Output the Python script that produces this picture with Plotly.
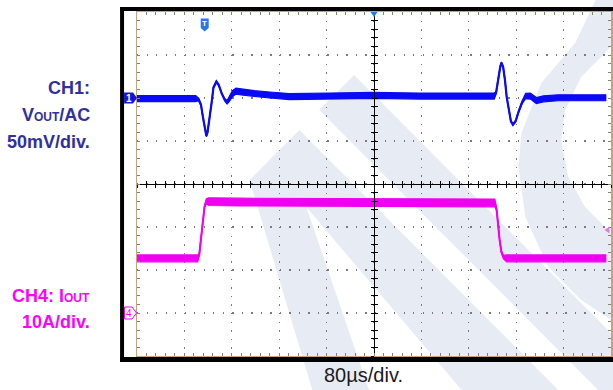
import plotly.graph_objects as go

# ---------------- data (read from the scope shot) ----------------
# CH1: Vout (AC), mV relative to the channel marker
time_us_ch1 = [-400, -301, -296, -292, -289, -286, -283, -281, -277, -274, -271, -266,
               -262, -257, -252, -248, -244, -239, -233, -224, -202, -176, -143, -76,
               0, 76, 160, 203, 206, 209, 213, 215, 218, 221, 224, 228, 231, 234.5,
               239, 244, 250, 256, 264, 274, 286, 311, 345, 392]
vout_mv = [-0.6, -0.6, -1.7, -8, -21, -35, -44, -40, -23, -5, 12, 19,
           15, 5, -2, -5, -1, 5, 8, 7, 5, 3.5, 1.7, 2.3,
           3, 2.3, 2.3, 2.3, 6, 21, 36, 41, 36, 21, 1, -15, -27, -31,
           -27, -16, -5, 2.3, 2.3, -3, -1, 0.3, 0.3, 0.3]
vout_noise_mv = [3.5, 3.5, 1.5, 1, 1, 1, 1, 1, 1, 1, 1, 1,
                 1, 1, 1.5, 2, 3, 3.5, 3.5, 3.5, 3.5, 3.5, 3.5, 3.5,
                 3.5, 3.5, 3.5, 3.5, 1.5, 1, 1, 1, 1, 1, 1, 1, 1, 1,
                 1, 1, 1.5, 3, 3.5, 3.5, 3.5, 3.5, 3.5, 3.5]

# CH4: Iout, A
time_us_ch4 = [-400, -297.5, -295, -292, -289, -286, -283, -279, -227, 0,
               204, 207, 209, 212, 215, 218.5, 224, 392]
iout_a = [12.7, 12.7, 13.5, 17, 21.2, 24.7, 26, 25.9, 25.8, 25.7,
          25.6, 24, 20.5, 17, 14.2, 13, 12.7, 12.7]
iout_noise_a = [0.8, 0.8, 0.3, 0.2, 0.2, 0.2, 0.6, 0.9, 0.9, 0.9,
                0.9, 0.3, 0.2, 0.2, 0.2, 0.4, 0.8, 0.8]

x_range = [-400, 400]      # 80 us/div, 10 divisions
ch1_range = [-300, 100]    # 50 mV/div, 8 divisions
ch4_range = [-10, 70]      # 10 A/div, 8 divisions

# ---------------- layout geometry (page pixels) ----------------
W_FIG, H_FIG = 613, 390
L, T, W, H = 137, 12, 476, 344   # plot area in page pixels


def px(x, y):
    return (x - L) / W, (T + H - y) / H


def poly(points):
    s = ""
    for i, (x, y) in enumerate(points):
        xp, yp = px(x, y)
        s += ("M" if i == 0 else "L") + f"{xp:.5f},{yp:.5f}"
    return s + "Z"


BLUE = "#0a0af5"
MAGENTA = "#f000f0"
TAN = "#c9a27c"
WM = "#e7ecf4"

fig = go.Figure()

# CH1 band + line
lo1 = [v - n for v, n in zip(vout_mv, vout_noise_mv)]
hi1 = [v + n for v, n in zip(vout_mv, vout_noise_mv)]
fig.add_trace(go.Scatter(x=time_us_ch1, y=lo1, mode="lines",
                         line=dict(color=BLUE, width=1.2), hoverinfo="skip", showlegend=False))
fig.add_trace(go.Scatter(x=time_us_ch1, y=hi1, mode="lines", fill="tonexty", fillcolor=BLUE,
                         line=dict(color=BLUE, width=1.2), hoverinfo="skip", showlegend=False))
fig.add_trace(go.Scatter(x=time_us_ch1, y=vout_mv, mode="lines",
                         line=dict(color=BLUE, width=2.2), name="CH1", showlegend=False))

# CH4 band + line
lo4 = [v - n for v, n in zip(iout_a, iout_noise_a)]
hi4 = [v + n for v, n in zip(iout_a, iout_noise_a)]
fig.add_trace(go.Scatter(x=time_us_ch4, y=lo4, yaxis="y2", mode="lines",
                         line=dict(color=MAGENTA, width=1.2), hoverinfo="skip", showlegend=False))
fig.add_trace(go.Scatter(x=time_us_ch4, y=hi4, yaxis="y2", mode="lines", fill="tonexty",
                         fillcolor=MAGENTA, line=dict(color=MAGENTA, width=1.2),
                         hoverinfo="skip", showlegend=False))
fig.add_trace(go.Scatter(x=time_us_ch4, y=iout_a, yaxis="y2", mode="lines",
                         line=dict(color=MAGENTA, width=2), name="CH4", showlegend=False))

# empty traces to realise the centre-crosshair axes
fig.add_trace(go.Scatter(x=[], y=[], xaxis="x2", yaxis="y3", showlegend=False))
fig.add_trace(go.Scatter(x=[], y=[], xaxis="x3", yaxis="y4", showlegend=False))

shapes = []
# watermark
for pts in [
    [(250, 180), (300, 130), (560, 390), (463, 390), (307, 207), (370, 390), (313, 390)],
    [(320, 110), (355, 75), (670, 390), (600, 390)],
    [(600, -5), (577, 43), (543, 83), (523, 133), (520, 167), (527, 217), (550, 267),
     (583, 300), (613, 320), (650, 335), (650, 240), (613, 233), (587, 207), (570, 177),
     (563, 140), (567, 110), (583, 77), (613, 47), (650, 20), (650, -5)],
]:
    shapes.append(dict(type="path", xref="paper", yref="paper", path=poly(pts),
                       fillcolor=WM, line=dict(width=0), layer="below"))

# black scope frame
for (x0, y0, x1, y1) in [(120, 7, 640, 11), (120, 7, 124, 362), (120, 357, 640, 362)]:
    a, b = px(x0, y0)
    c, d = px(x1, y1)
    shapes.append(dict(type="rect", xref="paper", yref="paper", x0=a, y0=b, x1=c, y1=d,
                       fillcolor="black", line=dict(width=0), layer="above"))

# channel / trigger markers
shapes.append(dict(type="path", xref="paper", yref="paper",
                   path=poly([(124, 92.5), (133, 92.5), (137, 98), (133, 103.5), (124, 103.5)]),
                   fillcolor="#1414d8", line=dict(width=0), layer="above"))
shapes.append(dict(type="path", xref="paper", yref="paper",
                   path=poly([(124.5, 307), (132, 307), (136.5, 313), (132, 319), (124.5, 319)]),
                   fillcolor="white", line=dict(width=1, color=MAGENTA), layer="above"))
shapes.append(dict(type="path", xref="paper", yref="paper",
                   path=poly([(201, 18.5), (209, 18.5), (209, 28), (205, 31.5), (201, 28)]),
                   fillcolor="#2a78e4", line=dict(width=0), layer="above"))
shapes.append(dict(type="path", xref="paper", yref="paper",
                   path=poly([(371.5, 12), (378.5, 12), (375, 17)]),
                   fillcolor="#2a78e4", line=dict(width=0), layer="above"))
shapes.append(dict(type="path", xref="paper", yref="paper",
                   path=poly([(606.5, 230), (611.5, 226.5), (611.5, 233.5)]),
                   fillcolor="#f070f0", line=dict(width=0), layer="above"))

annotations = []


def txt(x, y, text, size, color, bold=True, xanchor="center"):
    xp, yp = px(x, y)
    annotations.append(dict(x=xp, y=yp, xref="paper", yref="paper", text=text,
                            showarrow=False, xanchor=xanchor, yanchor="middle",
                            font=dict(family="Liberation Sans, Arial", size=size, color=color,
                                      weight="bold" if bold else "normal")))


CH1_COL = "#30309f"
txt(92, 88, "CH1:", 18, CH1_COL, xanchor="right")
txt(92, 115, "V<span style='font-size:12px'>OUT</span>/AC", 18, CH1_COL, xanchor="right")
txt(92, 142, "50mV/div.", 18, CH1_COL, xanchor="right")
txt(92, 296, "CH4: I<span style='font-size:12px'>OUT</span>", 18, "#ff00ff", xanchor="right")
txt(92, 322, "10A/div.", 18, "#ff00ff", xanchor="right")
txt(364, 375, "80µs/div.", 20, "#1a1a1a", bold=False)
txt(129, 98, "1", 10, "white")
txt(129, 313, "4", 10, MAGENTA, bold=False)
txt(205, 24, "T", 8, "white")

common_main = dict(showline=True, linecolor=TAN, linewidth=1.5, mirror="ticks",
                   ticks="inside", ticklen=3, tickcolor="#8c8070", tickwidth=1,
                   showticklabels=False, zeroline=False, showgrid=True,
                   gridcolor="#7a7a7a", gridwidth=1.3)
center = dict(showline=True, linecolor="black", linewidth=1, showticklabels=False,
              showgrid=False, zeroline=False, ticklen=3, tickcolor="black", tickwidth=1)

fig.update_layout(
    width=W_FIG, height=H_FIG,
    margin=dict(l=L, r=W_FIG - L - W, t=T, b=H_FIG - T - H),
    paper_bgcolor="white", plot_bgcolor="rgba(0,0,0,0)",
    showlegend=False,
    xaxis=dict(range=x_range, dtick=80, tick0=0, griddash="1.3px,7.3px",
               minor=dict(dtick=16, ticks="inside", ticklen=3, tickcolor="#8c8070", showgrid=False),
               **common_main),
    yaxis=dict(range=ch1_range, dtick=50, tick0=0, griddash="1.3px,8.22px",
               minor=dict(dtick=10, ticks="inside", ticklen=3, tickcolor="#8c8070", showgrid=False),
               **common_main),
    yaxis2=dict(range=ch4_range, overlaying="y", visible=False),
    xaxis2=dict(range=x_range, overlaying="x", anchor="free", position=0.5, side="bottom",
                dtick=16, ticks="outside", **center),
    xaxis3=dict(range=x_range, overlaying="x", anchor="free", position=0.5, side="bottom",
                dtick=16, ticks="inside", **center),
    yaxis3=dict(range=ch1_range, overlaying="y", anchor="free", position=0.5, side="left",
                dtick=10, ticks="outside", **center),
    yaxis4=dict(range=ch1_range, overlaying="y", anchor="free", position=0.5, side="left",
                dtick=10, ticks="inside", **center),
    shapes=shapes,
    annotations=annotations,
)

fig.write_html("out.html",
               config={"displayModeBar": False, "staticPlot": True},
               post_script="document.body.style.margin='0';document.body.style.overflow='hidden';")
